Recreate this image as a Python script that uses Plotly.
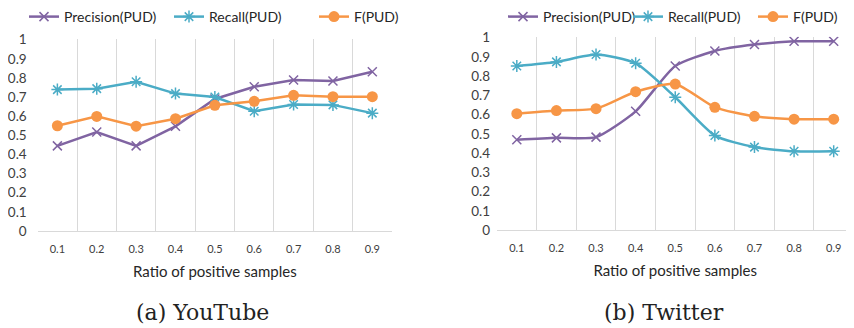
import plotly.graph_objects as go

ratios = ["0.1", "0.2", "0.3", "0.4", "0.5", "0.6", "0.7", "0.8", "0.9"]
ratio_vals = [0.1, 0.2, 0.3, 0.4, 0.5, 0.6, 0.7, 0.8, 0.9]

yt_precision = [0.445, 0.517, 0.445, 0.547, 0.690, 0.754, 0.789, 0.784, 0.832]
yt_recall = [0.739, 0.744, 0.780, 0.718, 0.700, 0.626, 0.661, 0.659, 0.616]
yt_f = [0.550, 0.599, 0.548, 0.587, 0.657, 0.678, 0.709, 0.702, 0.702]

tw_precision = [0.469, 0.479, 0.483, 0.617, 0.853, 0.931, 0.964, 0.981, 0.981]
tw_recall = [0.853, 0.874, 0.912, 0.867, 0.690, 0.491, 0.431, 0.409, 0.409]
tw_f = [0.605, 0.621, 0.631, 0.719, 0.759, 0.638, 0.591, 0.576, 0.576]

y_ticks = [0, 0.1, 0.2, 0.3, 0.4, 0.5, 0.6, 0.7, 0.8, 0.9, 1]
y_ticktext = ["0", "0.1", "0.2", "0.3", "0.4", "0.5", "0.6", "0.7", "0.8", "0.9", "1"]

names = ["Precision(PUD)", "Recall(PUD)", "F(PUD)"]
colors = ["#8064A2", "#4BACC6", "#F79646"]
symbols = ["x-thin", "asterisk", "circle"]
sizes = [9, 10, 11]

W, H = 854, 328
OFF = 8  # page body margin offset of the rendered figure
W_FONT = "Lato, 'Open Sans', sans-serif"
TXT = "#404040"
GRID = "#D9D9D9"


def px_x(x):
    return (x - OFF) / W


def px_y(y):
    return 1 - (y - OFF) / H


fig = go.Figure()

panels = [
    ([yt_precision, yt_recall, yt_f], "x", "y", "legend", "linear"),
    ([tw_precision, tw_recall, tw_f], "x2", "y2", "legend2", "spline"),
]
for series, xa, ya, lg, shape in panels:
    for i, vals in enumerate(series):
        mk = dict(symbol=symbols[i], size=sizes[i], color=colors[i])
        if symbols[i] != "circle":
            mk["line"] = dict(color=colors[i], width=1.5)
        fig.add_trace(go.Scatter(
            x=ratio_vals, y=vals, name=names[i], mode="lines+markers",
            line=dict(color=colors[i], width=2.5, shape=shape, smoothing=0.6),
            marker=mk, xaxis=xa, yaxis=ya, legend=lg, showlegend=True,
        ))


def xaxis_cfg(dom, anchor):
    return dict(
        domain=dom, anchor=anchor, range=[0.05, 0.95],
        tickvals=ratio_vals, ticktext=ratios, showgrid=False,
        minor=dict(tick0=0.05, dtick=0.1, showgrid=True, gridcolor=GRID, gridwidth=1, ticks=""),
        showline=True, linecolor=GRID, linewidth=1, mirror=False,
        ticks="", tickfont=dict(family=W_FONT, size=11, color=TXT), ticklabelstandoff=8,
        title=dict(text="Ratio of positive samples",
                   font=dict(family=W_FONT, size=15, color="#262626"), standoff=12),
        zeroline=False, fixedrange=True,
    )


def yaxis_cfg(dom, anchor, standoff):
    return dict(
        domain=dom, range=[0, 1.005], tickvals=y_ticks, ticktext=y_ticktext,
        showgrid=False, zeroline=False, showline=False, ticks="",
        tickfont=dict(family=W_FONT, size=13.5, color=TXT), anchor=anchor,
        ticklabelstandoff=standoff,
    )


fig.update_layout(
    width=W, height=H, margin=dict(l=0, r=0, t=0, b=0, autoexpand=False),
    paper_bgcolor="white", plot_bgcolor="white",
    xaxis=xaxis_cfg([px_x(37.7), px_x(392)], "y"),
    yaxis=yaxis_cfg([px_y(231), px_y(38.7)], "x", 10),
    xaxis2=xaxis_cfg([px_x(497), px_x(853.5)], "y2"),
    yaxis2=yaxis_cfg([px_y(230), px_y(36.7)], "x2", 6),
    legend=dict(orientation="h", x=px_x(24), y=px_y(17), xanchor="left", yanchor="middle",
                font=dict(family=W_FONT, size=14, color="#262626"),
                entrywidth=100, entrywidthmode="pixels", bgcolor="rgba(0,0,0,0)"),
    legend2=dict(orientation="h", x=px_x(503), y=px_y(17), xanchor="left", yanchor="middle",
                 font=dict(family=W_FONT, size=14, color="#262626"),
                 entrywidth=80, entrywidthmode="pixels", bgcolor="rgba(0,0,0,0)"),
    showlegend=True,
    annotations=[
        dict(text="(a) YouTube", x=px_x(202), y=px_y(312), xref="paper", yref="paper",
             xanchor="center", yanchor="middle", showarrow=False,
             font=dict(family="'DejaVu Serif', serif", size=22, color="#222")),
        dict(text="(b) Twitter", x=px_x(664), y=px_y(312), xref="paper", yref="paper",
             xanchor="center", yanchor="middle", showarrow=False,
             font=dict(family="'DejaVu Serif', serif", size=22, color="#222")),
    ],
)

fig.write_html("out.html")
